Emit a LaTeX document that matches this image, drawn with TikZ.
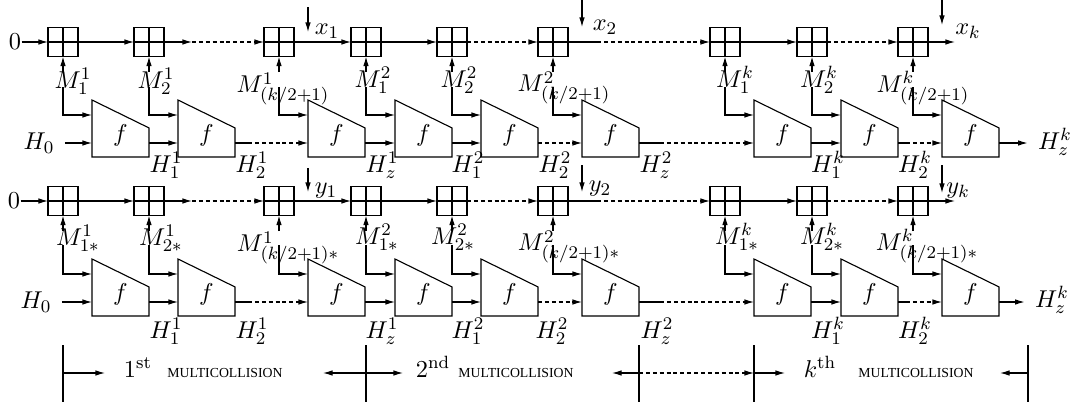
\documentclass[tikz,border=0pt]{standalone}
\usepackage{fontspec}
\newfontfamily\tms{Liberation Serif}
\usetikzlibrary{arrows.meta,calc}
\begin{document}
\begin{tikzpicture}[x=0.45pt,y=-0.45pt,line width=0.5pt,
  >={Latex[length=4.3pt,width=2.5pt]},
  every node/.append style={font=\fontsize{10.95}{13}\selectfont},
  xbox/.style={draw,minimum width=13.5pt,minimum height=13.1pt,inner sep=0pt,outer sep=0pt,
    path picture={\draw (path picture bounding box.north)--(path picture bounding box.south)
      (path picture bounding box.west)--(path picture bounding box.east);}},
  fblk/.style={minimum width=25.65pt,minimum height=25.65pt,inner sep=0pt,outer sep=0pt},
  dsh/.style={dash pattern=on 1.8pt off 1.3pt},
  lbl/.style={inner sep=0pt},
  mc/.style={inner sep=0pt,anchor=base,font=\tms\fontsize{6.2}{7}\selectfont},
]
\useasboundingbox (0,0) rectangle (1077,410);

% boxes and f blocks
\foreach \x [count=\i] in {63,149,279,366,452,553,725,812,913} {
  \node[xbox] (a\i) at (\x,42) {};
  \node[xbox] (b\i) at (\x,201) {};
  \node[fblk] (fa\i) at (\x+57.5,128.5) {};
  \node[fblk] (fb\i) at (\x+57.5,287.5) {};
  \draw (fa\i.north west) -- (fa\i.south west) -- (fa\i.south east) -- ($(fa\i.north east)!0.49!(fa\i.south east)$) -- cycle;
  \draw (fb\i.north west) -- (fb\i.south west) -- (fb\i.south east) -- ($(fb\i.north east)!0.49!(fb\i.south east)$) -- cycle;
  \node[lbl] at ($(fa\i.center)+(0,7)$) {$f$};
  \node[lbl] at ($(fb\i.center)+(0,7)$) {$f$};
  \coordinate (fa\i-m) at ($(fa\i.north west)+(0,15)$);
  \coordinate (fa\i-h) at ($(fa\i.south west)+(0,-14)$);
  \coordinate (fa\i-o) at ($(fa\i.south east)+(0,-14)$);
  \coordinate (fb\i-m) at ($(fb\i.north west)+(0,15)$);
  \coordinate (fb\i-h) at ($(fb\i.south west)+(0,-14)$);
  \coordinate (fb\i-o) at ($(fb\i.south east)+(0,-14)$);
  \draw[->] (\x,72) -- (a\i.south);
  \draw[->] (\x,87) |- (fa\i-m);
  \draw[->] (\x,231) -- (b\i.south);
  \draw[->] (\x,245) |- (fb\i-m);
}

% M labels top
\node[lbl] at (73,81) {$M_1^1$};
\node[lbl] at (156,81) {$M_2^1$};
\node[lbl] at (283,89) {$M^1_{(k/2+1)}$};
\node[lbl] at (373,80) {$M_1^2$};
\node[lbl] at (459,80) {$M_2^2$};
\node[lbl] at (564,88) {$M^2_{(k/2+1)}$};
\node[lbl] at (735,80) {$M_1^k$};
\node[lbl] at (819,80) {$M_2^k$};
\node[lbl] at (923,88) {$M^k_{(k/2+1)}$};
% M labels bottom
\node[lbl] at (78,238) {$M^1_{1*}$};
\node[lbl] at (161,238) {$M^1_{2*}$};
\node[lbl] at (288,248) {$M^1_{(k/2+1)*}$};
\node[lbl] at (377,237) {$M^2_{1*}$};
\node[lbl] at (453,237) {$M^2_{2*}$};
\node[lbl] at (569,247) {$M^2_{(k/2+1)*}$};
\node[lbl] at (737,237) {$M^k_{1*}$};
\node[lbl] at (822,237) {$M^k_{2*}$};
\node[lbl] at (927,246) {$M^k_{(k/2+1)*}$};

% H labels top
\node[lbl] at (166,165) {$H_1^1$};
\node[lbl] at (252,165) {$H_2^1$};
\node[lbl] at (382,165) {$H_z^1$};
\node[lbl] at (468,165) {$H_1^2$};
\node[lbl] at (555,165) {$H_2^2$};
\node[lbl] at (656,165) {$H_z^2$};
\node[lbl] at (828,165) {$H_1^k$};
\node[lbl] at (915,165) {$H_2^k$};
% H labels bottom
\node[lbl] at (166,331) {$H_1^1$};
\node[lbl] at (252,331) {$H_2^1$};
\node[lbl] at (382,331) {$H_z^1$};
\node[lbl] at (468,331) {$H_1^2$};
\node[lbl] at (552,331) {$H_2^2$};
\node[lbl] at (657,331) {$H_z^2$};
\node[lbl] at (828,331) {$H_1^k$};
\node[lbl] at (915,331) {$H_2^k$};

% inputs
\node[lbl] (z1) at (15,42) {$0$};
\node[lbl] (z2) at (14,201) {$0$};
\node[lbl] (h1) at (39,143) {$H_0$};
\node[lbl] (h2) at (36,302) {$H_0$};
\node[lbl] (hz1) at (1055,142) {$H_z^k$};
\node[lbl] (hz2) at (1052,300) {$H_z^k$};

% x / y inputs
\coordinate (x1s) at (308,7);  \coordinate (x1e) at (308,32);
\coordinate (x2s) at (582,0);  \coordinate (x2e) at (582,27);
\coordinate (xks) at (942,0);  \coordinate (xke) at (942,25);
\coordinate (y1s) at (308,168); \coordinate (y1e) at (308,192);
\coordinate (y2s) at (582,165); \coordinate (y2e) at (582,192);
\coordinate (yks) at (942,165); \coordinate (yke) at (942,193);
\draw[->] (x1s) -- (x1e); \draw[->] (x2s) -- (x2e); \draw[->] (xks) -- (xke);
\draw[->] (y1s) -- (y1e); \draw[->] (y2s) -- (y2e); \draw[->] (yks) -- (yke);
\node[lbl] at (327,31) {$x_1$};
\node[lbl] at (605,27) {$x_2$};
\node[lbl] at (968,31) {$x_k$};
\node[lbl] at (326,191) {$y_1$};
\node[lbl] at (600,189) {$y_2$};
\node[lbl] at (958,191) {$y_k$};

% box rows
\foreach \r/\zz in {a/z1,b/z2} {
  \draw[->] (\zz.east) -- (\r1.west);
  \draw[->] (\r1) -- (\r2);
  \draw[->] (\r2.east) -- ++(28,0) coordinate (\r c1);
  \draw[->,dsh] (\r c1) -- (\r3);
  \draw[->] (\r3) -- (\r4);
  \draw[->] (\r4) -- (\r5);
  \draw[->,dsh] (\r5) -- (\r6);
  \draw (\r6.east) -- ++(29,0) coordinate (\r c2);
  \draw[->,dsh] (\r c2) -- (\r7);
  \draw[->] (\r7) -- (\r8);
  \draw[->,dsh] (\r8) -- (\r9);
  \draw[->] (\r9.east) -- ++(27,0);
}

% f chains
\foreach \r/\hh/\hz in {fa/h1/hz1,fb/h2/hz2} {
  \draw[->] (\hh.east |- \r1-h) ++(10,0) -- (\r1-h);
  \draw[->] (\r1-o) -- (\r2-h);
  \draw (\r2-o) -- ++(13,0) coordinate (\r d1);
  \draw[->,dsh] (\r d1) -- (\r3-h);
  \draw[->] (\r3-o) -- (\r4-h);
  \draw[->] (\r4-o) -- (\r5-h);
  \draw[->,dsh] (\r5-o) -- (\r6-h);
  \draw (\r6-o) -- ++(21,0) coordinate (\r d2);
  \draw[->,dsh] (\r d2) -- (\r7-h);
  \draw[->] (\r7-o) -- (\r8-h);
  \draw (\r8-o) -- ++(8,0) coordinate (\r d3);
  \draw[->,dsh] (\r d3) -- (\r9-h);
  \draw[->] (\r9-o) -- ($(\hz.west |- \r9-o)+(-10,0)$);
}

% multicollision brackets
\foreach \x [count=\i] in {63,366,639,754,1028} {
  \coordinate (t\i) at (\x,345);
  \coordinate (u\i) at (\x,402);
  \coordinate (m\i) at (\x,373);
  \draw (t\i) -- (u\i);
}
\draw[->] (m1) -- ++(42,0);
\draw[->] (m2) -- ++(-43,0);
\draw[->] (m2) -- ++(37,0);
\draw[->] (m3) -- ++(-27,0);
\draw[->,dsh] (m3) -- (m4);
\draw[->] (m4) -- ++(31,0);
\draw[->] (m5) -- ++(-28,0);
\node[lbl,anchor=base] at (138,377) {$1^{\mathrm{st}}$};
\node[mc] at (225,377) {MULTICOLLISION};
\node[lbl,anchor=base] at (433,377) {$2^{\mathrm{nd}}$};
\node[mc] at (516,377) {MULTICOLLISION};
\node[lbl,anchor=base] at (820,377) {$k^{\mathrm{th}}$};
\node[mc] at (916,377) {MULTICOLLISION};
\end{tikzpicture}
\end{document}
